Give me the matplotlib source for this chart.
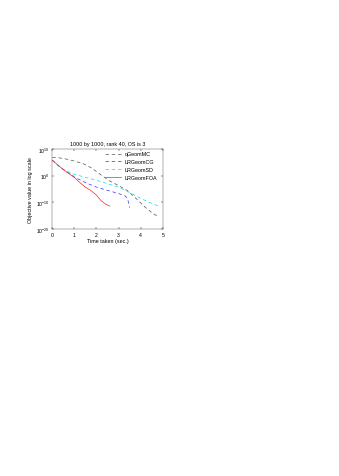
import numpy as np
import matplotlib.pyplot as plt

plt.rcParams['font.family'] = ['Liberation Sans', 'DejaVu Sans']

# values (time in sec, log10 of objective)
t_mc = [0, 0.3, 0.6, 1.0, 1.4, 1.8, 2.2, 2.6, 3.0, 3.4, 3.8, 4.2, 4.5, 4.8]
v_mc = [6.8, 6.7, 6.3, 5.5, 4.5, 2.8, 0.3, -2.0, -3.7, -5.6, -8.6, -11.8, -13.8, -15.4]

t_cg = [0, 0.2, 0.4, 0.6, 0.8, 1.0, 1.5, 2.0, 2.5, 3.0, 3.3, 3.4, 3.45, 3.5]
v_cg = [5.8, 4.3, 2.9, 1.7, 0.7, -0.5, -2.6, -4.3, -5.5, -6.7, -7.6, -8.5, -10.0, -12.0]

t_sd = [0, 0.2, 0.4, 0.6, 0.8, 1.0, 1.5, 2.0, 2.5, 3.0, 3.5, 4.0, 4.4, 4.8]
v_sd = [5.8, 4.2, 2.9, 1.8, 1.1, 0.5, -0.6, -1.7, -3.0, -4.3, -6.3, -8.5, -10.0, -11.4]

t_foa = [0, 0.25, 0.5, 0.75, 1.0, 1.25, 1.5, 1.75, 2.0, 2.2, 2.4, 2.6]
v_foa = [5.8, 4.0, 2.3, 0.8, -0.7, -2.6, -4.3, -5.6, -7.3, -9.3, -10.6, -11.4]

fig = plt.figure(figsize=(3.39, 4.77), dpi=100)
ax = fig.add_axes([0.1543, 0.5178, 0.3257, 0.1677])

dash = (0, (5, 4))
ax.semilogy(t_mc, 10.0 ** np.array(v_mc), linestyle=dash, color='#555555', lw=0.5, label='qGeomMC')
ax.semilogy(t_cg, 10.0 ** np.array(v_cg), linestyle=dash, color='#3333ff', lw=0.5, label='LRGeomCG')
ax.semilogy(t_sd, 10.0 ** np.array(v_sd), linestyle=dash, color='#00e5e5', lw=0.5, label='LRGeomSD')
ax.semilogy(t_foa, 10.0 ** np.array(v_foa), '-', color='#ff2222', lw=0.5, label='LRGeomFOA')

ax.set_xlim(0, 5)
ax.set_ylim(1e-20, 1e10)
ax.set_xticks([0, 1, 2, 3, 4, 5])
ax.set_yticks([1e-20, 1e-10, 1e0, 1e10])
ax.minorticks_off()
ax.tick_params(direction='in', labelsize=3.7, length=1.5, width=0.3, pad=2,
               top=True, right=True)
for s in ax.spines.values():
    s.set_linewidth(0.3)
    s.set_color('#444444')

ax.set_xlabel('Time taken (sec.)', fontsize=3.9, labelpad=1)
ax.set_ylabel('Objective value in log scale', fontsize=3.9, labelpad=2)
ax.set_title('1000 by 1000, rank 40, OS is 3', fontsize=3.9, pad=3)
ax.legend(loc='upper left', bbox_to_anchor=(0.477, 0.97), fontsize=3.9,
          frameon=False, handlelength=3, handletextpad=0.6,
          borderpad=0, borderaxespad=0, labelspacing=0.5)

fig.savefig('out.png', dpi=100)
